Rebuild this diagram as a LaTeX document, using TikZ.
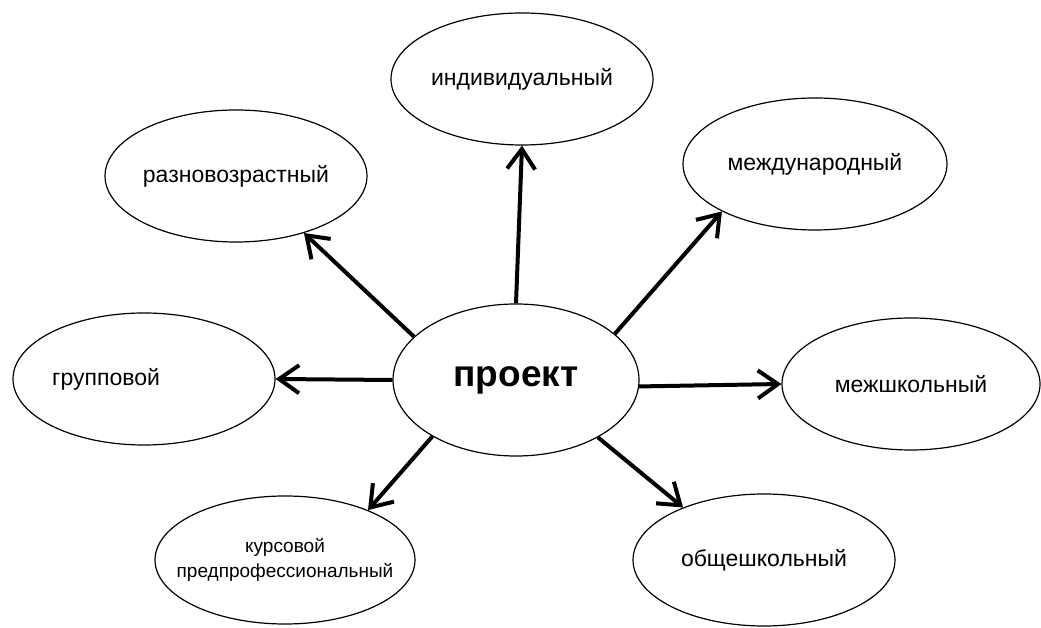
\documentclass[tikz,border=0pt]{standalone}
\usepackage{fontspec}
\setmainfont{Liberation Sans}
\usepackage{tikz}
\usetikzlibrary{arrows.meta}
\usetikzlibrary{shapes}
\usetikzlibrary{shapes.geometric}

\tikzstyle{kind}=[
   ellipse,
   draw=black,
   line width=1.2pt,
   inner xsep=-20pt,
   inner ysep=0pt,
   minimum width=262pt,
   minimum height=132pt,
   align=center,
   font=\fontsize{23}{28}\selectfont
]
\tikzstyle{main}=[
   ellipse,
   draw=black,
   line width=1.2pt,
   inner sep=0pt,
   minimum width=246pt,
   minimum height=152pt,
   font=\fontsize{37}{44}\selectfont\bfseries
]
\tikzstyle{link}=[
   line width=4pt
]

\begin{document}
\begin{tikzpicture}[
         >={Straight Barb[length=20pt,width=28pt]},
         node distance=200pt
      ]
      \useasboundingbox (0,0) rectangle (1041pt,628pt);

      \node (0) [main] at (516pt,248pt) {проект};

      \node (1) [kind, above of=0, xshift=6pt, yshift=101pt] {индивидуальный};
      \node (2) [kind, left of=0, xshift=-80pt, yshift=204pt] {разновозрастный};
      \node (3) [kind, right of=0, xshift=99pt, yshift=216pt, minimum width=264pt] {международный};
      \node (4) [kind, left of=0, xshift=-172pt, yshift=1pt] {групповой\hspace*{76pt}};
      \node (5) [kind, right of=0, xshift=195pt, yshift=-4pt, minimum width=258pt] {межшкольный};
      \node (6) [kind, below of=0, xshift=-231pt, yshift=20pt, minimum width=260pt,
                 minimum height=128pt, inner xsep=-30pt,
                 font=\fontsize{19}{25}\selectfont] {
         курсовой
         \\предпрофессиональный
      };
      \node (7) [kind, below of=0, xshift=248pt, yshift=20pt] {общешкольный};

      \path[->, link]

      (0.90)  edge (1.270)
      (0.157) edge (2.320)
      (0.25)  edge (3.207)
      (0.180) edge (4.0)
      (0.357) edge (5.180)
      (0.214) edge (6.31)
      (0.325) edge (7.147)
      ;

   \end{tikzpicture}
\end{document}
